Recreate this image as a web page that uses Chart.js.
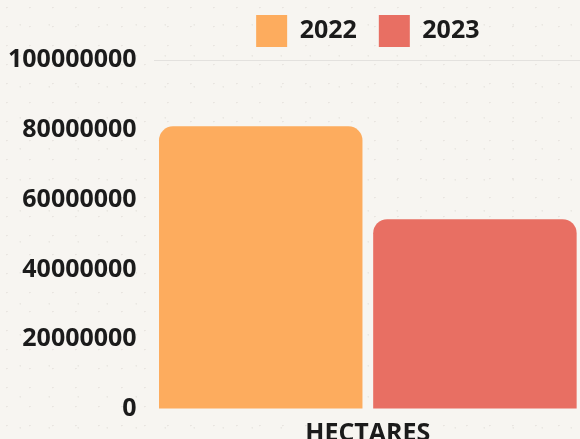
<!DOCTYPE html>
<html>
<head>
<meta charset="utf-8">
<script src="https://cdn.jsdelivr.net/npm/chart.js"></script>
<style>
  html, body { margin: 0; padding: 0; overflow: hidden; width: 580px; height: 439px; }
  body {
    background-color: #f7f5f1;
    background-image:
      radial-gradient(circle at 30% 40%, rgba(120,110,100,0.12) 0.5px, transparent 1.1px),
      radial-gradient(circle at 70% 80%, rgba(120,110,100,0.10) 0.5px, transparent 1.2px);
    background-size: 23px 19px, 29px 31px;
  }
  #wrap { position: absolute; left: -17px; top: -7px; }
</style>
</head>
<body>
<div id="wrap"><canvas id="myChart" width="602" height="458"></canvas></div>
<script>
const categories = ['HECTARES'];
const years = ['2022', '2023'];
const hectares2022 = [81000000];
const hectares2023 = [54400000];
const yTicks = [0, 20000000, 40000000, 60000000, 80000000, 100000000];

const barColors = ['#fdac5e', '#e86f63'];

// a bit more room under the legend
const legendSpace = {
  id: 'legendSpace',
  beforeInit(chart) {
    const origFit = chart.legend.fit;
    chart.legend.fit = function () {
      origFit.bind(chart.legend)();
      this.height += 3;
    };
  }
};

const ctx = document.getElementById('myChart');
const myChart = new Chart(ctx, {
  type: 'bar',
  data: {
    labels: categories,
    datasets: [{
      label: years[0],
      data: hectares2022,
      backgroundColor: barColors[0],
      borderRadius: 14,
      borderSkipped: 'start'
    }, {
      label: years[1],
      data: hectares2023,
      backgroundColor: barColors[1],
      borderRadius: 14,
      borderSkipped: 'start'
    }]
  },
  plugins: [legendSpace],
  options: {
    responsive: false,
    animation: false,
    layout: {
      padding: { left: 8, right: 3, top: 0, bottom: 0 }
    },
    datasets: {
      bar: { categoryPercentage: 1, barPercentage: 0.95 }
    },
    plugins: {
      legend: {
        position: 'top',
        fullSize: false,
        labels: {
          boxWidth: 31,
          boxHeight: 32,
          padding: 22,
          color: '#1b1b1b',
          font: { family: 'Open Sans', size: 25, weight: 'bold' }
        }
      },
      tooltip: { enabled: false }
    },
    scales: {
      x: {
        grid: { display: false },
        border: { display: false },
        ticks: {
          color: '#1b1b1b',
          padding: 2,
          font: { family: 'Open Sans', size: 25, weight: 'bold' }
        }
      },
      y: {
        min: 0,
        max: 100000000,
        afterBuildTicks: axis => { axis.ticks = yTicks.map(v => ({ value: v })); },
        border: { display: false },
        grid: {
          drawTicks: false,
          color: c => (c.tick && c.tick.value === 100000000) ? 'rgba(0,0,0,0.08)' : 'rgba(0,0,0,0)'
        },
        ticks: {
          color: '#1b1b1b',
          padding: 17,
          callback: v => String(v),
          font: { family: 'Open Sans', size: 25, weight: 'bold' }
        }
      }
    }
  }
});
</script>
</body>
</html>
